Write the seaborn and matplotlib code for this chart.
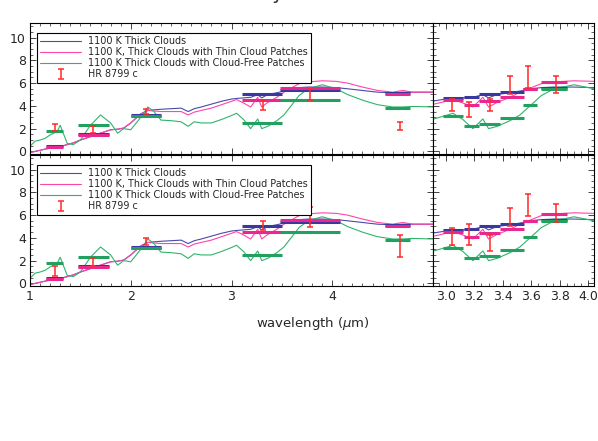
import numpy as np
import pandas as pd
import matplotlib
matplotlib.use('Agg')
import matplotlib.pyplot as plt
from matplotlib.ticker import MultipleLocator, FixedLocator, FormatStrFormatter
import seaborn as sns

sns.set_theme(style='ticks', rc={'xtick.direction': 'in', 'ytick.direction': 'in',
                                 'xtick.top': True, 'ytick.right': True,
                                 'axes.linewidth': 0.8, 'axes.edgecolor': 'black',
                                 'xtick.major.size': 4, 'ytick.major.size': 4,
                                 'xtick.minor.size': 2, 'ytick.minor.size': 2,
                                 'xtick.major.width': 0.6, 'ytick.major.width': 0.6,
                                 'xtick.minor.width': 0.5, 'ytick.minor.width': 0.5})
plt.rcParams['font.family'] = ['DejaVu Sans']

# model spectra
wavelength = [1.0, 1.05, 1.1, 1.15, 1.2, 1.27, 1.3, 1.33, 1.37, 1.43, 1.5, 1.6, 1.7, 1.8,
              1.87, 1.93, 2.0, 2.1, 2.17, 2.23, 2.3, 2.4, 2.5, 2.57, 2.63, 2.7, 2.8, 2.9,
              3.0, 3.05, 3.12, 3.19, 3.26, 3.3, 3.36, 3.45, 3.52, 3.6, 3.67, 3.76, 3.9,
              4.04, 4.15, 4.3, 4.45, 4.6, 4.7, 4.8, 5.0]
thick_clouds = [-0.1, 0.0, 0.1, 0.2, 0.3, 0.4, 0.45, 0.5, 0.6, 0.75, 1.0, 1.3, 1.6, 1.9,
                1.95, 2.05, 2.5, 3.3, 3.6, 3.65, 3.7, 3.75, 3.8, 3.5, 3.75, 3.9, 4.15, 4.4,
                4.6, 4.65, 4.7, 4.75, 4.98, 4.7, 5.0, 5.15, 5.3, 5.5, 5.6, 5.65, 5.65,
                5.6, 5.5, 5.35, 5.2, 5.15, 5.2, 5.2, 5.2]
thin_patches = [-0.1, 0.0, 0.1, 0.2, 0.3, 0.4, 0.45, 0.5, 0.6, 0.75, 1.0, 1.3, 1.6, 1.9,
                1.95, 2.05, 2.5, 3.3, 3.6, 3.55, 3.5, 3.5, 3.5, 3.2, 3.45, 3.6, 3.8, 4.1,
                4.4, 4.55, 4.25, 3.9, 4.75, 3.9, 4.3, 4.75, 5.2, 5.6, 5.95, 6.1, 6.2,
                6.15, 6.0, 5.65, 5.35, 5.2, 5.35, 5.2, 5.2]
clear_patches = [0.45, 0.9, 1.0, 1.15, 1.45, 1.75, 2.3, 1.6, 0.7, 0.6, 1.0, 2.3, 3.2, 2.5,
                 1.6, 2.0, 1.9, 3.0, 3.9, 3.5, 2.75, 2.7, 2.6, 2.2, 2.6, 2.5, 2.5, 2.8,
                 3.15, 3.35, 2.8, 2.0, 2.85, 2.0, 2.2, 2.7, 3.2, 4.1, 4.9, 5.5, 5.85,
                 5.5, 5.0, 4.5, 4.1, 3.9, 3.9, 3.95, 3.9]

# model photometry in the broad bands (left) and narrow bands (right)
band_lo = [1.16, 1.48, 2.0, 3.1, 3.48, 4.52]
band_hi = [1.33, 1.78, 2.3, 3.5, 4.08, 4.77]
band_thick = [0.45, 1.5, 3.2, 5.0, 5.35, 5.15]
band_thin = [0.4, 1.45, 3.15, 4.5, 5.55, 5.0]
band_clear = [1.75, 2.3, 3.1, 2.5, 4.55, 3.85]

nb_lo = [2.98, 3.13, 3.23, 3.38, 3.54, 3.67]
nb_hi = [3.12, 3.23, 3.38, 3.55, 3.64, 3.85]
nb_thick = [4.65, 4.75, 5.0, 5.2, 5.5, 5.6]
nb_thin = [4.5, 4.1, 4.4, 4.8, 5.5, 6.1]
nb_clear = [3.1, 2.2, 2.4, 2.9, 4.05, 5.45]

# HR 8799 c photometry, two versions (top / bottom panel)
phot_wl = [1.25, 1.625, 2.148, 3.31, 3.78, 4.67]
phot_top = [2.1, 1.9, 3.52, 4.05, 5.0, 2.25]
err_top = [0.3, 0.3, 0.22, 0.45, 0.5, 0.35]
phot_bot = [1.07, 1.87, 3.71, 5.1, 5.82, 3.3]
err_bot = [0.43, 0.37, 0.32, 0.4, 0.85, 0.97]

nb_wl = [3.045, 3.165, 3.31, 3.45, 3.58, 3.77]
nb_phot_top = [4.07, 3.7, 4.07, 5.8, 6.5, 5.9]
nb_err_top = [0.52, 0.65, 0.52, 0.8, 0.97, 0.75]
nb_phot_bot = [4.15, 4.27, 3.57, 5.84, 6.9, 6.2]
nb_err_bot = [0.75, 0.93, 0.7, 0.8, 0.95, 0.8]

labels = ['1100 K Thick Clouds', '1100 K, Thick Clouds with Thin Cloud Patches',
          '1100 K Thick Clouds with Cloud-Free Patches']
line_cols = ['#4a4aaa', '#ff44aa', '#30b46c']
bar_cols = ['#3838a0', '#e8288f', '#22a060']
red = '#ff2a2a'

models = pd.DataFrame({'wl': wavelength, labels[0]: thick_clouds,
                       labels[1]: thin_patches, labels[2]: clear_patches})

fig = plt.figure(figsize=(5.98, 4.41), dpi=100)
x_left, w_left = 30 / 598, 403 / 598
x_right, w_right = 433 / 598, 161 / 598
y_top, y_bot, h = 1 - 153.7 / 441, 1 - 285.7 / 441, 131 / 441

rows = [(y_top, phot_top, err_top, nb_phot_top, nb_err_top),
        (y_bot, phot_bot, err_bot, nb_phot_bot, nb_err_bot)]

for r, (y0, ph, er, nph, ner) in enumerate(rows):
    axl = fig.add_axes([x_left, y0, w_left, h])
    axr = fig.add_axes([x_right, y0, w_right, h])
    for ax, lo, hi, bvals, px, py, pe in [
            (axl, band_lo, band_hi, [band_thick, band_thin, band_clear], phot_wl, ph, er),
            (axr, nb_lo, nb_hi, [nb_thick, nb_thin, nb_clear], nb_wl, nph, ner)]:
        for lab, c in zip(labels, line_cols):
            sns.lineplot(data=models, x='wl', y=lab, color=c, lw=0.8, sort=False,
                         ax=ax, label=lab, legend=False)
        for vals, c in zip(bvals, bar_cols):
            ax.hlines(vals, lo, hi, colors=c, lw=2.2)
        ax.errorbar(px, py, yerr=pe, fmt='none', ecolor=red, elinewidth=1.1,
                    capsize=2, capthick=1.1, label='HR 8799 c')
        ax.set_ylim(-0.2, 11.3)
        ax.set_xlabel('')
        ax.set_ylabel('')
        ax.yaxis.set_major_locator(MultipleLocator(2))
        ax.yaxis.set_minor_locator(MultipleLocator(0.5))
        ax.tick_params(labelsize=9, pad=3)

    axl.set_xlim(1, 5.0)
    axl.xaxis.set_major_locator(FixedLocator([1, 2, 3, 4]))
    axl.xaxis.set_minor_locator(MultipleLocator(0.1))
    axr.set_xlim(2.91, 4.04)
    axr.xaxis.set_major_locator(MultipleLocator(0.2))
    axr.xaxis.set_minor_locator(MultipleLocator(0.05))
    axr.xaxis.set_major_formatter(FormatStrFormatter('%.1f'))
    axr.tick_params(labelleft=False)
    if r == 0:
        axl.tick_params(labelbottom=False)
        axr.tick_params(labelbottom=False)

    handles, labs = axl.get_legend_handles_labels()
    leg = axl.legend(handles, labs, loc='upper left', bbox_to_anchor=(0.017, 0.924),
                     fontsize=6.9, frameon=True, fancybox=False, framealpha=1,
                     edgecolor='black', handlelength=4.3, handletextpad=0.7,
                     labelspacing=0.12, borderpad=0.35, borderaxespad=0)
    leg.get_frame().set_linewidth(0.8)
    if r == 1:
        axl.set_xlabel(r'wavelength ($\mu$m)', fontsize=9.5)
        axl.xaxis.set_label_coords(283 / 403, -0.22)

# title sits mostly above the canvas, as in the reference
fig.text(0.535, 1 + 1 / 441, 'Patchy Cloud Models', ha='center', va='baseline',
         fontsize=14, color='#333333')

fig.savefig('out.png', dpi=100)
